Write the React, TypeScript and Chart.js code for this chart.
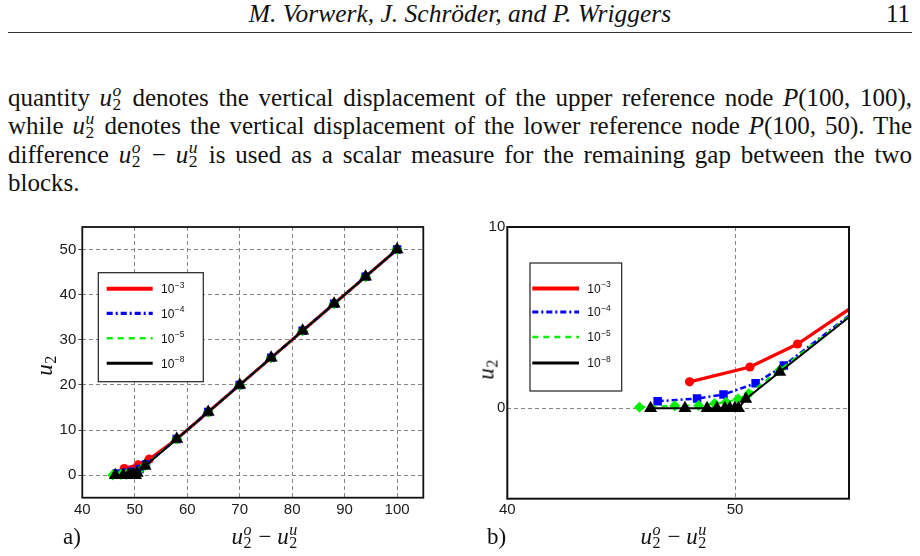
import React, { useEffect, useRef } from "react";
import { Chart, registerables } from "chart.js";

Chart.register(...registerables);

// Gap u2^o - u2^u (x) and vertical displacement u2 (y) for each penalty tolerance
const gapTol3 = [48.0, 50.65, 52.74, 58, 64, 70, 76, 82, 88, 94, 100];
const dispTol3 = [1.45, 2.27, 3.54, 8, 14, 20, 26, 32, 38, 44, 50];

const gapTol4 = [46.6, 48.33, 49.49, 50.9, 52.14, 58, 64, 70, 76, 82, 88, 94, 100];
const dispTol4 = [0.38, 0.53, 0.75, 1.37, 2.35, 8, 14, 20, 26, 32, 38, 44, 50];

const gapTol5 = [45.8, 47.35, 48.4, 49.1, 49.6, 50.13, 50.6, 51.96, 58, 64, 70, 76, 82, 88, 94, 100];
const dispTol5 = [0.05, 0.13, 0.15, 0.25, 0.33, 0.51, 0.79, 2.11, 8, 14, 20, 26, 32, 38, 44, 50];

const gapTol8 = [46.29, 47.8, 48.77, 49.2, 49.55, 49.77, 49.99, 50.15, 50.47, 51.96, 58, 64, 70, 76, 82, 88, 94, 100];
const dispTol8 = [0, 0, 0, 0, 0, 0, 0, 0, 0.5, 2.0, 8, 14, 20, 26, 32, 38, 44, 50];

// Tolerance exponents shown in the key (10^e)
const tolExponents = ["\u22123", "\u22124", "\u22125", "\u22128"];

// Axis ticks of the overview (a) and the close-up (b)
const overviewXTicks = [40, 50, 60, 70, 80, 90, 100];
const overviewYTicks = [0, 10, 20, 30, 40, 50];
const detailXTicks = [40, 50];
const detailYTicks = [0, 10];

const seriesX = [gapTol3, gapTol4, gapTol5, gapTol8];
const seriesY = [dispTol3, dispTol4, dispTol5, dispTol8];

const styles = [
  { color: "#ff0000", width: 3.2, dash: [] as number[], point: "circle", radius: 4.6, keyWidth: 4 },
  { color: "#0000ff", width: 2.5, dash: [6, 3, 2, 3], point: "rect", radius: 6, keyWidth: 3.2 },
  { color: "#00f000", width: 2, dash: [6, 5], point: "rectRot", radius: 5.5, keyWidth: 2.6 },
  { color: "#000000", width: 2, dash: [] as number[], point: "triangle", radius: 7.5, keyWidth: 3 },
];

function buildDatasets() {
  return seriesX.map((xs, i) => {
    const st = styles[i];
    return {
      label: "10" + tolExponents[i],
      data: xs.map((x, j) => ({ x, y: seriesY[i][j] })),
      showLine: true,
      borderColor: st.color,
      backgroundColor: st.color,
      borderWidth: st.width,
      borderDash: st.dash,
      pointStyle: st.point,
      pointRadius: st.radius,
      pointBorderWidth: 0,
      pointBackgroundColor: st.color,
      tension: 0,
      order: 4 - i,
    };
  });
}

// Frame around the plot area and the boxed key with line samples
const frameAndKey = {
  id: "frameAndKey",
  afterDraw(chart: any, _args: any, opts: any) {
    const { ctx, chartArea: a } = chart;
    ctx.save();
    ctx.setLineDash([]);
    ctx.strokeStyle = "#111";
    ctx.lineWidth = opts.frameWidth;
    ctx.strokeRect(a.left, a.top, a.right - a.left, a.bottom - a.top);

    const k = opts.key;
    const bx = a.left + k.dx;
    const by = a.top + k.dy;
    ctx.fillStyle = "#fff";
    ctx.fillRect(bx, by, k.w, k.h);
    ctx.lineWidth = 1.2;
    ctx.strokeStyle = "#222";
    ctx.strokeRect(bx, by, k.w, k.h);

    chart.data.datasets.forEach((ds: any, i: number) => {
      const y = by + k.rows[i];
      ctx.strokeStyle = ds.borderColor;
      ctx.lineWidth = styles[i].keyWidth;
      ctx.setLineDash(ds.borderDash);
      ctx.beginPath();
      ctx.moveTo(bx + k.x0, y);
      ctx.lineTo(bx + k.x1, y);
      ctx.stroke();
      ctx.setLineDash([]);
      ctx.fillStyle = "#111";
      ctx.textBaseline = "middle";
      ctx.textAlign = "left";
      ctx.font = '12px "Liberation Sans"';
      ctx.fillText("10", bx + k.tx, y + 1);
      const w = ctx.measureText("10").width;
      ctx.font = '8.5px "Liberation Sans"';
      ctx.fillText(tolExponents[i], bx + k.tx + w + 0.5, y - 3.5);
    });
    ctx.restore();
  },
};

function makeAxis(
  min: number,
  max: number,
  ticks: number[],
  horizontal: boolean,
  size: number,
  drawTicks: boolean,
  padding: number
) {
  return {
    type: "linear",
    min,
    max,
    afterBuildTicks: (s: any) => {
      s.ticks = ticks.map((v) => ({ value: v }));
    },
    afterFit: (s: any) => {
      if (horizontal) s.height = size;
      else s.width = size;
    },
    grid: {
      color: "#858585",
      lineWidth: 1,
      drawTicks,
      tickLength: 4,
      tickColor: "#555",
      tickWidth: 1,
      tickBorderDash: [],
    },
    border: { display: false, dash: [4, 3] },
    ticks: {
      color: "#1a1a1a",
      font: { family: "Liberation Sans", size: 15 },
      padding,
      maxRotation: 0,
      autoSkip: false,
    },
  };
}

type PlotProps = {
  left: number;
  top: number;
  width: number;
  height: number;
  x: any;
  y: any;
  padding: any;
  frameWidth: number;
  keyBox: any;
};

function Plot({ left, top, width, height, x, y, padding, frameWidth, keyBox }: PlotProps) {
  const ref = useRef<HTMLCanvasElement | null>(null);
  useEffect(() => {
    if (!ref.current) return;
    const chart = new Chart(ref.current, {
      type: "scatter",
      data: { datasets: buildDatasets() as any },
      options: {
        responsive: false,
        animation: false,
        devicePixelRatio: 1,
        events: [],
        layout: { padding },
        scales: { x, y } as any,
        plugins: {
          legend: { display: false },
          tooltip: { enabled: false },
          frameAndKey: { frameWidth, key: keyBox },
        } as any,
      },
      plugins: [frameAndKey as any],
    });
    return () => chart.destroy();
  }, []);
  return (
    <canvas
      ref={ref}
      width={width}
      height={height}
      style={{ position: "absolute", left, top, width, height }}
    />
  );
}

// u_2 with a stacked superscript
function U2({ sup, size }: { sup?: string; size: number }) {
  const s = size * 0.7;
  return (
    <span style={{ whiteSpace: "nowrap" }}>
      <i>u</i>
      <span
        style={{
          position: "relative",
          display: "inline-block",
          width: s * 0.55 + 1,
          height: 0,
        }}
      >
        {sup ? (
          <span
            style={{
              position: "absolute",
              left: 0.5,
              top: -size * 0.36 - s * 0.8375,
              fontSize: s,
              lineHeight: `${s}px`,
              fontStyle: "italic",
            }}
          >
            {sup}
          </span>
        ) : null}
        <span
          style={{
            position: "absolute",
            left: 0.5,
            top: size * 0.2 - s * 0.8375,
            fontSize: s,
            lineHeight: `${s}px`,
          }}
        >
          2
        </span>
      </span>
    </span>
  );
}

const BODY = 25;

function Line({ top, children, last }: { top: number; children: React.ReactNode; last?: boolean }) {
  return (
    <div
      style={{
        position: "absolute",
        left: 8,
        width: 904,
        top,
        fontSize: BODY,
        lineHeight: `${BODY}px`,
        whiteSpace: "nowrap",
        textAlign: last ? "left" : "justify",
        textAlignLast: last ? "left" : "justify",
      } as any}
    >
      {children}
    </div>
  );
}

export default function App() {
  const LBL = 23;
  return (
    <div
      style={{
        position: "absolute",
        left: 0,
        top: 0,
        width: 920,
        height: 556,
        background: "#fff",
        overflow: "hidden",
        color: "#111",
        fontFamily: '"Liberation Serif", serif',
      }}
    >
      <div
        style={{
          position: "absolute",
          left: 0,
          width: 920,
          top: 1,
          textAlign: "center",
          fontStyle: "italic",
          fontSize: 25.5,
          lineHeight: "25px",
        }}
      >
        M. Vorwerk, J. Schröder, and P. Wriggers
      </div>
      <div
        style={{
          position: "absolute",
          left: 0,
          width: 910,
          top: 1,
          textAlign: "right",
          fontSize: 25,
          lineHeight: "25px",
        }}
      >
        11
      </div>
      <div style={{ position: "absolute", left: 8, width: 904, top: 31.5, height: 1, background: "#333" }} />

      <Line top={84.6}>
        quantity <U2 sup="o" size={BODY} /> denotes the vertical displacement of the upper reference node <i>P</i>(100, 100),
      </Line>
      <Line top={113.1}>
        while <U2 sup="u" size={BODY} /> denotes the vertical displacement of the lower reference node <i>P</i>(100, 50). The
      </Line>
      <Line top={141.6}>
        difference <U2 sup="o" size={BODY} /> − <U2 sup="u" size={BODY} /> is used as a scalar measure for the remaining gap between the two
      </Line>
      <Line top={170.1} last>
        blocks.
      </Line>

      <Plot
        left={30}
        top={216}
        width={410}
        height={310}
        padding={{ top: 10, right: 16.7, left: 0, bottom: 0 }}
        x={makeAxis(40, 105, overviewXTicks, true, 28.3, false, 3)}
        y={makeAxis(-5, 55, overviewYTicks, false, 52.3, true, 2)}
        frameWidth={1.8}
        keyBox={{ dx: 16, dy: 45.7, w: 105, h: 109, rows: [16, 40.6, 65.6, 90.6], x0: 8.4, x1: 54.4, tx: 62.7 }}
      />
      <Plot
        left={470}
        top={216}
        width={400}
        height={310}
        padding={{ top: 10.7, right: 21, left: 0, bottom: 0 }}
        x={makeAxis(40, 55, detailXTicks, true, 27.3, false, 2)}
        y={makeAxis(-5, 10, detailYTicks, false, 37.3, false, 2)}
        frameWidth={2}
        keyBox={{ dx: 22.7, dy: 36, w: 91.7, h: 128, rows: [25.6, 49, 74, 100], x0: 2.3, x1: 49, tx: 57.3 }}
      />

      {/* axis titles and panel tags */}
      <div
        style={{
          position: "absolute",
          left: 44,
          top: 365,
          fontSize: LBL,
          lineHeight: `${LBL}px`,
          transform: "translate(-50%, -50%) rotate(-90deg)",
          whiteSpace: "nowrap",
        }}
      >
        <U2 size={LBL} />
      </div>
      <div
        style={{
          position: "absolute",
          left: 486,
          top: 369,
          fontSize: LBL,
          lineHeight: `${LBL}px`,
          transform: "translate(-50%, -50%) rotate(-90deg)",
          whiteSpace: "nowrap",
        }}
      >
        <U2 size={LBL} />
      </div>
      <div style={{ position: "absolute", left: 63, top: 525, fontSize: LBL, lineHeight: `${LBL}px` }}>a)</div>
      <div
        style={{
          position: "absolute",
          left: 265,
          top: 525,
          fontSize: LBL,
          lineHeight: `${LBL}px`,
          transform: "translateX(-50%)",
          whiteSpace: "nowrap",
        }}
      >
        <U2 sup="o" size={LBL} /> − <U2 sup="u" size={LBL} />
      </div>
      <div style={{ position: "absolute", left: 487, top: 525, fontSize: LBL, lineHeight: `${LBL}px` }}>b)</div>
      <div
        style={{
          position: "absolute",
          left: 674,
          top: 525,
          fontSize: LBL,
          lineHeight: `${LBL}px`,
          transform: "translateX(-50%)",
          whiteSpace: "nowrap",
        }}
      >
        <U2 sup="o" size={LBL} /> − <U2 sup="u" size={LBL} />
      </div>
    </div>
  );
}
